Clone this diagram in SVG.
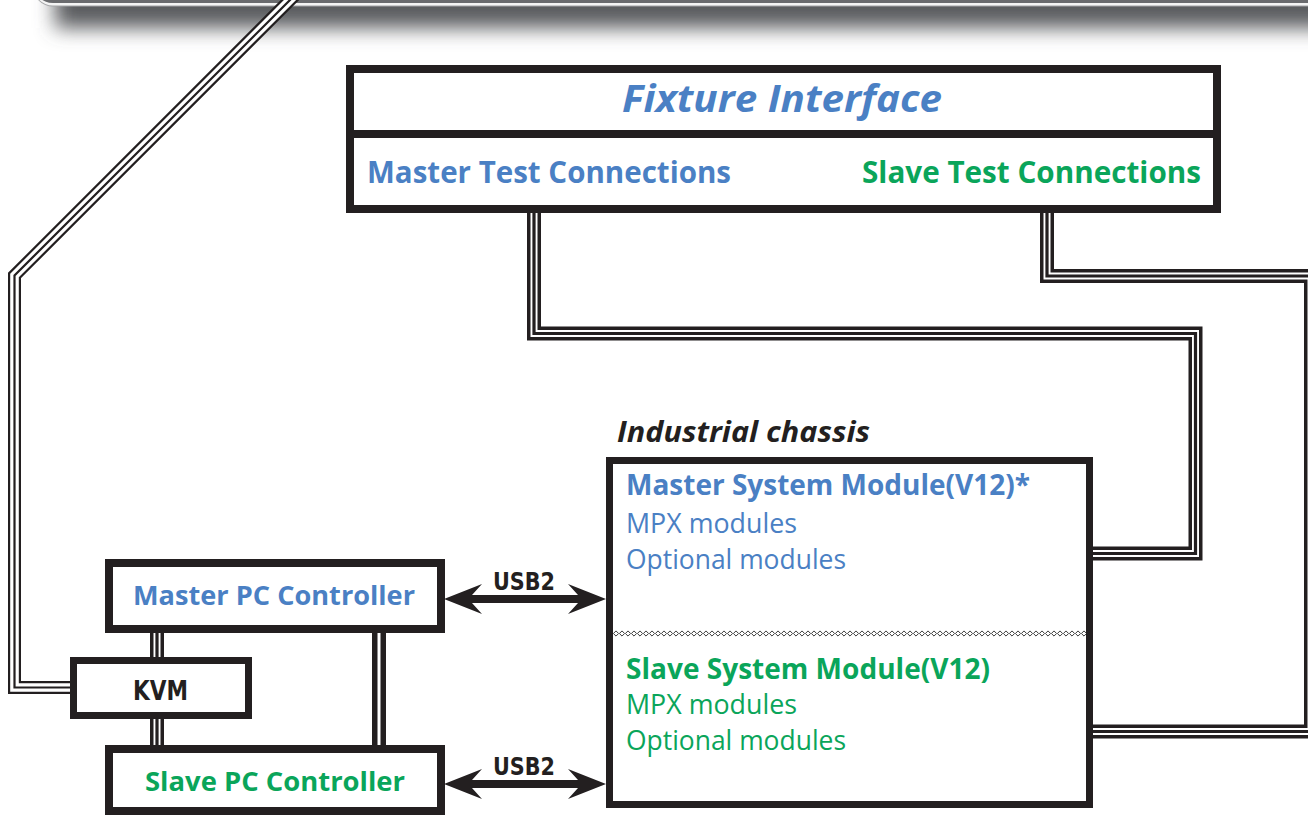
<svg xmlns="http://www.w3.org/2000/svg" xmlns:xlink="http://www.w3.org/1999/xlink" width="1308" height="817" viewBox="0 0 1308 817">
<style>
.box{fill:#fff;stroke:#231f20;stroke-linejoin:miter}
.o{fill:none;stroke:#231f20;stroke-width:14;stroke-linejoin:miter}
.w{fill:none;stroke:#fff;stroke-width:7;stroke-linejoin:miter}
.i{fill:none;stroke:#231f20;stroke-width:3.2;stroke-linejoin:miter}
.mo{fill:none;stroke:#231f20;stroke-width:13;stroke-linejoin:miter}
.mw{fill:none;stroke:#fff;stroke-width:8.6;stroke-linejoin:miter}
.mi{fill:none;stroke:#231f20;stroke-width:2.2;stroke-linejoin:miter}
.dw{fill:none;stroke:#fff;stroke-width:3}
.t{font-family:"Open Sans","Noto Sans",sans-serif}
.b{font-weight:bold}
.it{font-style:italic}
.blue{fill:#4a80c4}
.green{fill:#0aa55a}
.blk{fill:#231f20}
.cond{font-family:"DejaVu Sans Condensed","DejaVu Sans",sans-serif;font-stretch:condensed;font-weight:bold;fill:#231f20}
</style>
<defs>
<filter id="blur" x="-10%" y="-200%" width="120%" height="500%"><feGaussianBlur stdDeviation="10"/></filter>
<pattern id="diam" x="613" y="630" width="6" height="7" patternUnits="userSpaceOnUse">
<path d="M0.4,3.5 L3,0.9 L5.6,3.5 L3,6.1 Z" fill="none" stroke="#3a3a3a" stroke-width="1"/>
</pattern>
<path id="arrow" d="M0,0 L38,-15 L28,-4 L134,-4 L124,-15 L162,0 L124,15 L134,4 L28,4 L38,15 Z"/>
<path id="pm" d="M300,-10 L14.5,275.5 L14.5,687.5 L75,687.5"/>
<path id="pml" d="M534,205 L534,333.5 L1195.5,333.5 L1195.5,553.5 L1090,553.5"/>
<path id="psl" d="M1047,205 L1047,276 L1311,276 L1311,731.5 L1090,731.5"/>
<path id="pk1" d="M157,630 L157,661"/>
<path id="pk2" d="M157,715 L157,749"/>
</defs>

<g id="monitor">
<rect x="55" y="-80" width="1320" height="108" fill="#5a5b5e" filter="url(#blur)"/>
<rect x="33" y="-40" width="1320" height="46.5" rx="20" fill="#a3a4a6"/>
<rect x="33" y="-40" width="1320" height="45.5" rx="20" fill="#f4f4f4"/>
<rect x="33" y="-40" width="1320" height="43" rx="20" fill="#6a6b6e"/>
</g>

<g id="connectors">
<use xlink:href="#pm" class="mo"/><use xlink:href="#pm" class="mw"/><use xlink:href="#pm" class="mi"/>
<use xlink:href="#pml" class="o"/><use xlink:href="#pml" class="w"/><use xlink:href="#pml" class="i"/>
<use xlink:href="#psl" class="o"/><use xlink:href="#psl" class="w"/><use xlink:href="#psl" class="i"/>
<use xlink:href="#pk1" class="o"/><use xlink:href="#pk1" class="w"/><use xlink:href="#pk1" class="i"/>
<use xlink:href="#pk2" class="o"/><use xlink:href="#pk2" class="w"/><use xlink:href="#pk2" class="i"/>
<path d="M379,630 L379,749" class="o"/><path d="M379,630 L379,749" class="dw"/>
<use xlink:href="#arrow" transform="translate(444,599)" fill="#231f20"/>
<use xlink:href="#arrow" transform="translate(444,784)" fill="#231f20"/>
<text class="cond" x="493" y="590" font-size="25" textLength="62" lengthAdjust="spacingAndGlyphs">USB2</text>
<text class="cond" x="493" y="775" font-size="25" textLength="62" lengthAdjust="spacingAndGlyphs">USB2</text>
</g>

<g id="fixture-interface">
<rect class="box" x="350" y="69" width="867" height="140" stroke-width="8"/>
<line x1="350" y1="134" x2="1217" y2="134" stroke="#231f20" stroke-width="8"/>
<text class="t b it blue" x="782" y="112" font-size="38" text-anchor="middle" textLength="320" lengthAdjust="spacingAndGlyphs">Fixture Interface</text>
<text class="t b blue" x="367" y="183" font-size="30" textLength="364" lengthAdjust="spacingAndGlyphs">Master Test Connections</text>
<text class="t b green" x="862" y="183" font-size="30" textLength="339" lengthAdjust="spacingAndGlyphs">Slave Test Connections</text>
</g>

<g id="industrial-chassis">
<text class="t b it blk" x="617" y="442" font-size="29" textLength="253" lengthAdjust="spacingAndGlyphs">Industrial chassis</text>
<rect class="box" x="609.5" y="460.5" width="480" height="344" stroke-width="7"/>
<rect x="613" y="630" width="473" height="7" fill="url(#diam)"/>
<text class="t b blue" x="626" y="495" font-size="28" textLength="404" lengthAdjust="spacingAndGlyphs">Master System Module(V12)*</text>
<text class="t blue" x="626" y="533" font-size="26.5" textLength="171" lengthAdjust="spacingAndGlyphs">MPX modules</text>
<text class="t blue" x="626" y="569" font-size="26.5" textLength="220" lengthAdjust="spacingAndGlyphs">Optional modules</text>
<text class="t b green" x="626" y="679" font-size="28" textLength="364" lengthAdjust="spacingAndGlyphs">Slave System Module(V12)</text>
<text class="t green" x="626" y="714" font-size="26.5" textLength="171" lengthAdjust="spacingAndGlyphs">MPX modules</text>
<text class="t green" x="626" y="750" font-size="26.5" textLength="220" lengthAdjust="spacingAndGlyphs">Optional modules</text>
</g>

<g id="master-pc-controller">
<rect class="box" x="109" y="563" width="332" height="66" stroke-width="8"/>
<text class="t b blue" x="133" y="605" font-size="27.5" textLength="282" lengthAdjust="spacingAndGlyphs">Master PC Controller</text>
</g>

<g id="kvm">
<rect class="box" x="73.5" y="660.5" width="175" height="55" stroke-width="7"/>
<text class="cond" x="133" y="700" font-size="27" textLength="55" lengthAdjust="spacingAndGlyphs">KVM</text>
</g>

<g id="slave-pc-controller">
<rect class="box" x="109" y="749" width="332" height="62" stroke-width="8"/>
<text class="t b green" x="145" y="791" font-size="27.5" textLength="260" lengthAdjust="spacingAndGlyphs">Slave PC Controller</text>
</g>
</svg>
